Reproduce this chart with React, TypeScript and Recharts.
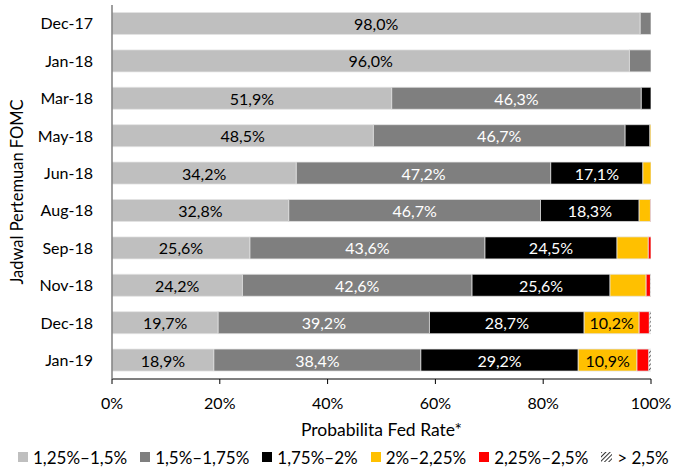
import React from 'react';
import { BarChart, Bar, XAxis, YAxis, Legend, LabelList } from 'recharts';

const categories = ['Dec-17', 'Jan-18', 'Mar-18', 'May-18', 'Jun-18', 'Aug-18', 'Sep-18', 'Nov-18', 'Dec-18', 'Jan-19'];
const r125_150 = [98.0, 96.0, 51.9, 48.5, 34.2, 32.8, 25.6, 24.2, 19.7, 18.9];
const r150_175 = [2.0, 4.0, 46.3, 46.7, 47.2, 46.7, 43.6, 42.6, 39.2, 38.4];
const r175_200 = [0, 0, 1.8, 4.6, 17.1, 18.3, 24.5, 25.6, 28.7, 29.2];
const r200_225 = [0, 0, 0, 0.2, 1.5, 2.1, 5.8, 6.7, 10.2, 10.9];
const r225_250 = [0, 0, 0, 0, 0, 0.1, 0.5, 0.8, 1.9, 2.2];
const r250plus = [0, 0, 0, 0, 0, 0, 0, 0.1, 0.3, 0.4];
const xTicks = [0, 20, 40, 60, 80, 100];

const seriesNames = ['1,25%–1,5%', '1,5%–1,75%', '1,75%–2%', '2%–2,25%', '2,25%–2,5%', '> 2,5%'];
const seriesKeys = ['a', 'b', 'c', 'd', 'e', 'f'];
const seriesColors = ['#BFBFBF', '#7F7F7F', '#000000', '#FFC000', '#FF0000', 'url(#hatch)'];
const labelColors = ['#000000', '#FFFFFF', '#FFFFFF', '#000000', '#000000', '#000000'];

const data = categories.map((name, i) => ({
  name,
  a: r125_150[i],
  b: r150_175[i],
  c: r175_200[i],
  d: r200_225[i],
  e: r225_250[i],
  f: r250plus[i],
}));

const FONT = 'Lato, "Open Sans", sans-serif';

const fmt = (v: number) => v.toFixed(1).replace('.', ',') + '%';

const makeLabel = (color: string) => (props: any) => {
  const { x, y, width, height, value } = props;
  if (value == null || value < 10) return null;
  return (
    <text
      x={x + width / 2}
      y={y + height / 2}
      textAnchor="middle"
      dominantBaseline="central"
      fill={color}
      fontSize={16}
      fontFamily={FONT}
    >
      {fmt(value)}
    </text>
  );
};

const LegendContent = () => (
  <div
    style={{
      display: 'flex',
      justifyContent: 'flex-start',
      alignItems: 'center',
      height: 22,
      fontFamily: FONT,
      fontSize: 17,
      color: '#000',
      gap: 13,
      paddingLeft: 18,
      whiteSpace: 'nowrap',
    }}
  >
    {seriesNames.map((n, i) => (
      <div key={n} style={{ display: 'flex', alignItems: 'center' }}>
        {i < 5 ? (
          <span style={{ display: 'inline-block', width: 10, height: 10, background: seriesColors[i], marginRight: 5 }} />
        ) : (
          <svg width={11} height={10} style={{ marginRight: 5 }}>
            <defs>
              <pattern id="hatchLegend" width="3" height="3" patternUnits="userSpaceOnUse" patternTransform="rotate(45)">
                <rect width="3" height="3" fill="#fff" />
                <line x1="0" y1="0" x2="0" y2="3" stroke="#000" strokeWidth="1.6" />
              </pattern>
            </defs>
            <rect width={11} height={10} fill="url(#hatchLegend)" />
          </svg>
        )}
        <span>{n}</span>
      </div>
    ))}
  </div>
);

const YTitle = (props: any) => {
  const { viewBox } = props;
  const cy = viewBox.y + viewBox.height / 2;
  return (
    <text
      x={17}
      y={cy}
      transform={`rotate(-90, 17, ${cy})`}
      textAnchor="middle"
      dominantBaseline="central"
      fontSize={16.5}
      fontFamily={FONT}
      fill="#000"
    >
      Jadwal Pertemuan FOMC
    </text>
  );
};

export default function App() {
  return (
    <div style={{ position: 'absolute', left: 0, top: 0, width: 681, height: 468, background: '#fff', overflow: 'hidden' }}>
      <BarChart
        width={681}
        height={468}
        data={data}
        layout="vertical"
        margin={{ top: 5, right: 30, left: 0, bottom: 0 }}
        barCategoryGap="20%"
      >
        <defs>
          <pattern id="hatch" width="3" height="3" patternUnits="userSpaceOnUse" patternTransform="rotate(45)">
            <rect width="3" height="3" fill="#fff" />
            <line x1="0" y1="0" x2="0" y2="3" stroke="#000" strokeWidth="1.6" />
          </pattern>
        </defs>
        <XAxis
          type="number"
          domain={[0, 100]}
          ticks={xTicks}
          allowDataOverflow
          tickFormatter={(v: number) => `${v}%`}
          tick={{ fill: '#000', fontSize: 16, fontFamily: FONT }}
          axisLine={{ stroke: '#000' }}
          tickLine={{ stroke: '#000' }}
          tickSize={5}
          tickMargin={14}
          height={67}
          label={{
            value: 'Probabilita Fed Rate*',
            position: 'insideBottom',
            offset: 10,
            fill: '#000',
            fontSize: 17.5,
            fontFamily: FONT,
          }}
        />
        <YAxis
          type="category"
          dataKey="name"
          width={112}
          tick={{ fill: '#000', fontSize: 16, fontFamily: FONT }}
          axisLine={{ stroke: '#7f7f7f', strokeWidth: 1.5 }}
          tickLine={false}
          tickSize={6}
          tickMargin={13}
          label={<YTitle />}
        />
        <Legend verticalAlign="bottom" content={<LegendContent />} />
        {seriesKeys.map((k, i) => (
          <Bar
            key={k}
            dataKey={k}
            name={seriesNames[i]}
            stackId="s"
            fill={seriesColors[i]}
            stroke="#e3e3e3"
            strokeWidth={0.75}
            isAnimationActive={false}
          >
            <LabelList dataKey={k} content={makeLabel(labelColors[i])} />
          </Bar>
        ))}
      </BarChart>
    </div>
  );
}
